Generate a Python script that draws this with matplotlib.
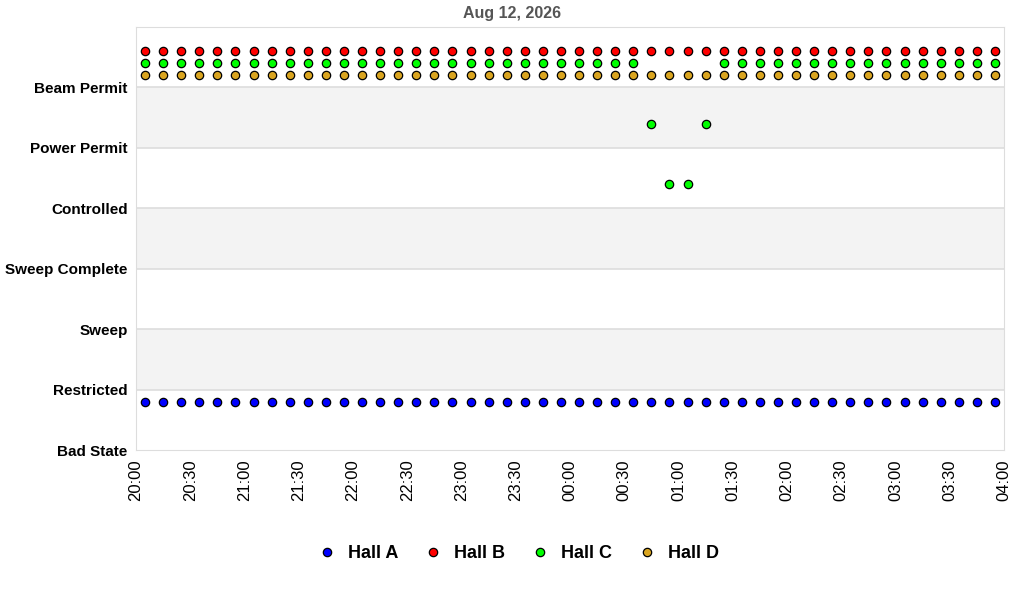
import numpy as np
import pandas as pd
import matplotlib
matplotlib.use("Agg")
import matplotlib.pyplot as plt
import matplotlib.dates as mdates

plt.rcParams['font.family'] = ['Liberation Sans', 'DejaVu Sans']

# state names, index = numeric level
states = ["Bad State", "Restricted", "Sweep", "Sweep Complete",
          "Controlled", "Power Permit", "Beam Permit"]

# samples every 10 minutes
times = pd.date_range("2026-08-12 20:05", "2026-08-13 03:55", freq="10min")

hall_a = [0] * 48
hall_b = [6] * 48
hall_c = [6] * 28 + [5, 4, 4, 5] + [6] * 16
hall_d = [6] * 48

halls = ["Hall A", "Hall B", "Hall C", "Hall D"]
colors = ["#0000ff", "#ff0000", "#00ff00", "#daa520"]
offsets = [0.8, 0.6, 0.4, 0.2]

fig = plt.figure(figsize=(10.24, 6.0), dpi=100)
ax = fig.add_axes([0.1328, 0.25, 0.8477, 0.705])

# alternating bands
for lo in (1, 3, 5):
    ax.axhspan(lo, lo + 1, color="#f3f3f3", zorder=0, lw=0)
for y in range(1, 7):
    ax.axhline(y, color="#dddddd", lw=1.2, zorder=1)

for name, vals, c, off in zip(halls, [hall_a, hall_b, hall_c, hall_d], colors, offsets):
    ax.plot(times, np.array(vals) + off, linestyle="none", marker="o",
            markersize=6, markerfacecolor=c, markeredgecolor="black",
            markeredgewidth=0.9, label=name, zorder=3)

ax.set_ylim(0, 7)
ax.set_yticks(range(len(states)))
ax.set_yticklabels(states, fontweight="bold", fontsize=11)

ax.set_xlim(pd.Timestamp("2026-08-12 20:00"), pd.Timestamp("2026-08-13 04:00"))
ax.xaxis.set_major_locator(mdates.MinuteLocator(byminute=[0, 30]))
ax.xaxis.set_major_formatter(mdates.DateFormatter("%H:%M"))
plt.setp(ax.get_xticklabels(), rotation=90, fontsize=12)
ax.tick_params(axis="y", length=0, pad=6)
ax.tick_params(axis="x", length=0, pad=7)

for s in ax.spines.values():
    s.set_color("#dddddd")

fig.text(0.5, 0.978, "Aug 12, 2026", ha="center", va="center",
         fontweight="bold", color="#555555", fontsize=11.5)

fig.legend(loc="center", bbox_to_anchor=(0.504, 0.077), ncol=4, frameon=False,
           prop={"weight": "bold", "size": 13}, handletextpad=0.4,
           columnspacing=1.2, markerscale=1.0, handlelength=1.5)

fig.savefig("out.png", dpi=100)
